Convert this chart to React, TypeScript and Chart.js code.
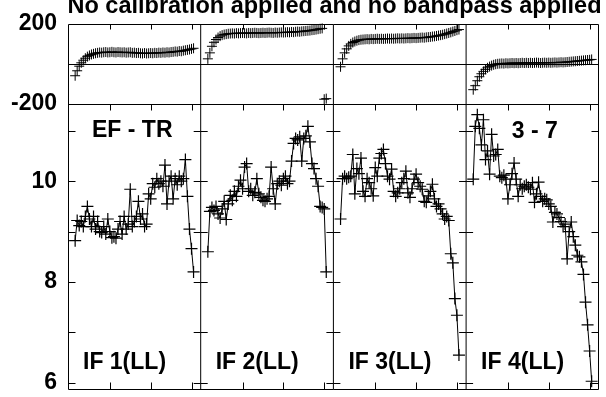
import React, { useEffect, useRef } from "react";
import { Chart, registerables } from "chart.js";

Chart.register(...registerables);

const TITLE = "No calibration applied and no bandpass applied";
const BASELINE_LABEL = "EF - TR";
const TIME_LABEL = "3 - 7";
const IF_LABELS = ["IF 1(LL)", "IF 2(LL)", "IF 3(LL)", "IF 4(LL)"];

// channel numbers plotted in every IF
const CHANNELS = [
  3, 4, 5, 6, 7, 8, 9, 10, 11, 12, 13, 14, 15, 16, 17, 18, 19, 20, 21, 22,
  23, 24, 25, 26, 27, 28, 29, 30, 31, 32, 33, 34, 35, 36, 37, 38, 39, 40, 41,
  42, 43, 44, 45, 46, 47, 48, 49, 50, 51, 52, 53, 54, 55, 56, 57, 58, 59, 60, 61,
];
const CHANNEL_SPAN = 65; // channel range of one IF panel (-0.5 .. 64.5)
const X_TICKS = [20, 40, 60];
const PHASE_LABELS = [-200, 200];
const PHASE_MIN = -200;
const PHASE_MAX = 200;
const AMP_LABELS = [6, 8, 10];
const AMP_ALL_TICKS = [6, 7, 8, 9, 10, 11];
const AMP_MIN = 5.86;
const AMP_MAX = 11.54;

const AMP_IF1 = [
  8.82, 9.22, 9.12, 9.2, 9.1, 9.3, 9.5, 9.25, 9.1, 9.3, 9.05, 9.2, 9.0, 8.98,
  9.1, 8.95, 9.25, 9.0, 8.88, 8.9, 8.87, 9.05, 9.2, 8.95, 9.3, 9.05, 9.15, 9.84,
  9.1, 9.2, 9.3, 9.6, 9.25, 9.35, 9.1, 9.15, 9.75, 9.65, 9.95, 9.88, 10.05,
  9.95, 10.0, 9.9, 10.32, 9.55, 10.0, 10.1, 9.65, 10.05, 9.93, 10.1, 10.0,
  10.05, 10.43, 9.7, 9.05, 8.66, 8.2,
];
const AMP_IF2 = [
  8.6, 9.4, 9.48, 9.42, 9.5, 9.35, 9.27, 9.45, 9.6, 9.24, 9.55, 9.72, 9.62, 9.8,
  9.7, 9.9, 10.02, 9.85, 10.28, 10.35, 9.8, 9.85, 9.72, 9.78, 10.05, 9.75, 9.68,
  9.62, 9.6, 9.65, 9.7, 10.28, 9.85, 9.55, 9.95, 10.0, 9.92, 10.05, 10.1, 9.95,
  10.0, 10.4, 10.75, 10.85, 10.82, 10.88, 10.4, 10.85, 10.9, 11.09, 10.78,
  10.35, 10.25, 10.05, 9.9, 9.5, 9.48, 9.45, 8.2,
];
const AMP_IF3 = [
  9.25, 10.05, 10.1, 10.05, 10.08, 10.1, 10.53, 9.75, 10.25, 10.15, 10.46, 9.8,
  9.7, 10.05, 9.97, 9.85, 9.71, 10.27, 10.1, 10.46, 10.55, 10.63, 10.35, 10.1,
  10.04, 10.24, 9.8, 9.7, 9.77, 9.85, 9.97, 10.05, 10.2, 9.77, 9.68, 9.85,
  10.04, 10.14, 9.97, 9.9, 9.84, 9.6, 9.58, 9.71, 9.8, 9.94, 9.65, 9.5, 9.55,
  9.45, 9.35, 9.25, 9.3, 9.22, 8.56, 8.38, 7.67, 7.34, 6.55,
];
const AMP_IF4 = [
  10.04, 11.09, 11.32, 11.05, 10.72, 11.22, 10.43, 10.6, 10.14, 10.93, 10.5,
  10.53, 10.63, 10.1, 10.07, 10.12, 10.04, 9.65, 9.93, 10.15, 10.36, 10.04, 9.7,
  9.93, 9.85, 9.9, 9.93, 9.88, 9.84, 9.97, 9.58, 9.75, 9.98, 9.7, 9.6, 9.65,
  9.63, 9.55, 9.5, 9.19, 9.38, 9.35, 9.28, 9.2, 9.1, 9.15, 8.46, 9.0, 9.19, 8.9,
  8.73, 8.53, 8.5, 8.4, 8.15, 7.6, 7.15, 6.63, 6.03,
];

const PHASE_IF1 = [
  -60, -35, -12, 5, 18, 28, 36, 42, 47, 50, 53, 55, 57, 56, 58, 59, 57, 58, 60,
  58, 57, 59, 58, 57, 58, 56, 57, 58, 55, 56, 54, 55, 53, 52, 54, 52, 53, 54,
  53, 55, 54, 56, 55, 57, 56, 58, 57, 59, 60, 62, 61, 64, 63, 66, 68, 70, 72,
  75, 78,
];
const PHASE_IF2 = [
  25, 55, 88, 108, 122, 132, 139, 144, 147, 149, 151, 152, 153, 152, 154, 153,
  154, 155, 154, 153, 155, 154, 155, 156, 155, 154, 155, 156, 155, 156, 157,
  156, 155, 157, 156, 157, 158, 157, 158, 159, 158, 160, 159, 161, 162, 161,
  163, 164, 165, 166, 167, 169, 170, 172, 174, 176, 178, -178, -175,
];
const PHASE_IF3 = [
  -15, 25, 55, 75, 90, 100, 107, 112, 116, 119, 121, 122, 123, 124, 123, 125,
  124, 125, 126, 125, 126, 125, 126, 127, 126, 127, 126, 127, 128, 127, 128,
  127, 128, 129, 128, 129, 130, 129, 130, 131, 132, 131, 133, 134, 135, 137,
  138, 140, 142, 144, 146, 149, 152, 155, 158, 162, 165, 169, 172,
];
const PHASE_IF4 = [
  -130, -110, -85, -65, -50, -38, -28, -20, -14, -9, -5, -2, 0, 1, 2, 1, 3, 2,
  3, 4, 3, 4, 3, 4, 5, 4, 5, 4, 5, 4, 5, 6, 5, 4, 5, 6, 5, 6, 5, 6, 7, 6, 7, 8,
  7, 8, 9, 10, 11, 12, 13, 14, 15, 16, 17, 18, 19, 20, 22,
];

const AMPS = [AMP_IF1, AMP_IF2, AMP_IF3, AMP_IF4];
const PHASES = [PHASE_IF1, PHASE_IF2, PHASE_IF3, PHASE_IF4];

const FONT_FAMILY = '"Liberation Sans", Arial, Helvetica, sans-serif';
const BOLD_FONT = `bold 23px ${FONT_FAMILY}`;
const TITLE_FONT = `bold 23.5px ${FONT_FAMILY}`;

const framePlugin = {
  id: "possmFrame",
  afterDatasetsDraw(chart: any) {
    const ctx = chart.ctx as CanvasRenderingContext2D;
    const xs = chart.scales.x;
    const ya = chart.scales.ya;
    const yp = chart.scales.yp;
    const nPanels = AMPS.length;
    const edges: number[] = [];
    for (let k = 0; k <= nPanels; k++) {
      edges.push(xs.getPixelForValue(k * CHANNEL_SPAN - 0.5));
    }
    const L = Math.round(edges[0]) + 0.5;
    const R = Math.round(edges[nPanels]) - 0.5;
    const yTop = Math.round(yp.top) + 0.5;
    const yMid = Math.round(yp.bottom) + 0.5;
    const yBot = Math.round(ya.bottom) - 0.5;
    const yZero = Math.round(yp.getPixelForValue(0)) + 0.5;

    ctx.save();
    ctx.strokeStyle = "#000";
    ctx.lineWidth = 1;
    ctx.beginPath();
    ctx.rect(L, yTop, R - L, yBot - yTop);
    ctx.moveTo(L, yMid);
    ctx.lineTo(R, yMid);
    ctx.moveTo(L, yZero);
    ctx.lineTo(R, yZero);
    for (let k = 1; k < nPanels; k++) {
      ctx.moveTo(edges[k], yTop);
      ctx.lineTo(edges[k], yBot);
    }
    // channel ticks
    for (let k = 0; k < nPanels; k++) {
      for (const t of X_TICKS) {
        const px = Math.round(xs.getPixelForValue(k * CHANNEL_SPAN + t)) + 0.5;
        ctx.moveTo(px, yTop);
        ctx.lineTo(px, yTop + 5);
        ctx.moveTo(px, yMid);
        ctx.lineTo(px, yMid + 6);
        ctx.moveTo(px, yBot);
        ctx.lineTo(px, yBot - 7);
      }
    }
    // amplitude ticks on both sides of every panel
    for (const v of AMP_ALL_TICKS) {
      const py = Math.round(ya.getPixelForValue(v)) + 0.5;
      for (let k = 0; k <= nPanels; k++) {
        const bx = k === 0 ? L : k === nPanels ? R : edges[k];
        if (k > 0) {
          ctx.moveTo(bx - 7, py);
          ctx.lineTo(bx, py);
        }
        if (k < nPanels) {
          ctx.moveTo(bx, py);
          ctx.lineTo(bx + 7, py);
        }
      }
    }
    ctx.stroke();

    ctx.fillStyle = "#000";
    ctx.textBaseline = "alphabetic";
    ctx.font = TITLE_FONT;
    ctx.textAlign = "center";
    ctx.fillText(TITLE, (L + R) / 2 + 1, 13);
    ctx.font = BOLD_FONT;
    ctx.textAlign = "left";
    ctx.fillText(BASELINE_LABEL, edges[0] + 24, ya.top + 33);
    ctx.textAlign = "right";
    ctx.fillText(TIME_LABEL, edges[nPanels] - 41, ya.top + 34);
    ctx.textAlign = "left";
    for (let k = 0; k < nPanels; k++) {
      ctx.fillText(IF_LABELS[k], edges[k] + 15, ya.bottom - 20.5);
    }
    ctx.restore();
  },
};

function fixAxis(scale: any) {
  scale.width = 68;
  scale.paddingTop = 0;
  scale.paddingBottom = 0;
}

export default function App() {
  const canvasRef = useRef<HTMLCanvasElement | null>(null);

  useEffect(() => {
    const canvas = canvasRef.current;
    if (!canvas) return;
    const datasets: any[] = [];
    for (let k = 0; k < AMPS.length; k++) {
      datasets.push({
        label: `Amp ${IF_LABELS[k]}`,
        data: CHANNELS.map((c, j) => ({ x: k * CHANNEL_SPAN + c, y: AMPS[k][j] })),
        yAxisID: "ya",
        xAxisID: "x",
        borderColor: "#000",
        borderWidth: 1,
        pointStyle: "cross",
        pointRadius: 6,
        pointBorderColor: "#000",
        pointBorderWidth: 1.2,
        pointBackgroundColor: "#000",
        showLine: true,
        tension: 0,
        clip: false,
      });
      datasets.push({
        label: `Phase ${IF_LABELS[k]}`,
        data: CHANNELS.map((c, j) => ({ x: k * CHANNEL_SPAN + c, y: PHASES[k][j] })),
        yAxisID: "yp",
        xAxisID: "x",
        borderColor: "#000",
        borderWidth: 1,
        pointStyle: "cross",
        pointRadius: 5,
        pointBorderColor: "#000",
        pointBorderWidth: 1,
        showLine: false,
        clip: false,
      });
    }

    const tickFont = { family: FONT_FAMILY, size: 23, weight: "bold" as const };

    const chart = new Chart(canvas, {
      type: "line",
      data: { datasets },
      options: {
        animation: false,
        responsive: false,
        devicePixelRatio: 1,
        events: [],
        layout: { padding: { top: 24, right: 5, bottom: 5, left: 0 } },
        plugins: {
          legend: { display: false },
          tooltip: { enabled: false },
          title: { display: false },
        },
        scales: {
          x: {
            type: "linear",
            display: false,
            min: -0.5,
            max: AMPS.length * CHANNEL_SPAN - 0.5,
          },
          ya: {
            type: "linear",
            position: "left",
            stack: "v",
            stackWeight: AMP_MAX - AMP_MIN,
            min: AMP_MIN,
            max: AMP_MAX,
            grid: { display: false, drawTicks: false },
            border: { display: false },
            ticks: { padding: 11, color: "#000", font: tickFont },
            afterBuildTicks: (s: any) => {
              s.ticks = AMP_LABELS.map((v) => ({ value: v }));
            },
            afterFit: fixAxis,
          },
          yp: {
            type: "linear",
            position: "left",
            stack: "v",
            stackWeight: 1.58,
            min: PHASE_MIN,
            max: PHASE_MAX,
            grid: { display: false, drawTicks: false },
            border: { display: false },
            ticks: { padding: 11, color: "#000", font: tickFont },
            afterBuildTicks: (s: any) => {
              s.ticks = PHASE_LABELS.map((v) => ({ value: v }));
            },
            afterFit: fixAxis,
          },
        },
      } as any,
      plugins: [framePlugin],
    });
    return () => chart.destroy();
  }, []);

  return (
    <div
      style={{
        position: "absolute",
        left: 0,
        top: 0,
        width: 606,
        height: 397,
        background: "#fff",
        overflow: "hidden",
      }}
    >
      <canvas ref={canvasRef} width={606} height={397} style={{ display: "block" }} />
    </div>
  );
}
